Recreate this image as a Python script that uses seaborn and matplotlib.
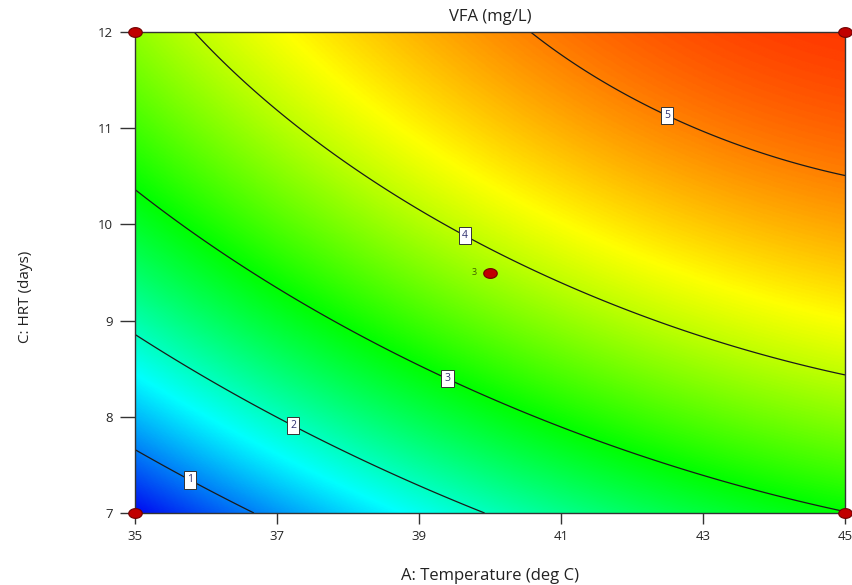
import numpy as np
import matplotlib
matplotlib.use("Agg")
import matplotlib.pyplot as plt
from matplotlib.colors import LinearSegmentedColormap
import seaborn as sns
import pandas as pd

# ---- data ----
title = "VFA (mg/L)"
xlabel = "A: Temperature (deg C)"
ylabel = "C: HRT (days)"
x_ticks = [35, 37, 39, 41, 43, 45]
y_ticks = [7, 8, 9, 10, 11, 12]
levels = [1, 2, 3, 4, 5]

# traced points on each contour line (temperature, HRT)
lvl1_x = [35.0, 35.79, 36.65]
lvl1_y = [7.62, 7.37, 7.0]
lvl2_x = [35.03, 37.25, 38.69, 39.86]
lvl2_y = [8.81, 7.94, 7.42, 7.0]
lvl3_x = [35.04, 36.34, 37.65, 39.41, 40.56, 42.01, 43.90, 45.0]
lvl3_y = [10.31, 9.77, 9.03, 8.41, 8.00, 7.58, 7.21, 7.03]
lvl4_x = [35.87, 36.80, 38.21, 39.62, 40.80, 42.49, 43.90, 45.0]
lvl4_y = [12.0, 11.26, 10.49, 9.91, 9.39, 8.98, 8.67, 8.42]
lvl5_x = [40.56, 40.85, 42.51, 43.66, 45.0]
lvl5_y = [12.0, 11.85, 11.15, 10.80, 10.49]

# design points
design_x = [35, 35, 45, 45, 40]
design_y = [7, 12, 7, 12, 9.5]
center_reps = "3"

# ---- response surface (quadratic fitted through the traced contours) ----
tx = [lvl1_x, lvl2_x, lvl3_x, lvl4_x, lvl5_x]
ty = [lvl1_y, lvl2_y, lvl3_y, lvl4_y, lvl5_y]
px, py, pv = [], [], []
for lv, xs, ys in zip(levels, tx, ty):
    px += xs; py += ys; pv += [lv] * len(xs)
px, py, pv = np.array(px), np.array(py), np.array(pv, float)

def design(x, y):
    a = (x - 40.0) / 5.0
    c = (y - 9.5) / 2.5
    return np.stack([np.ones_like(a), a, c, a * c, a * a, c * c], axis=-1)

coef, *_ = np.linalg.lstsq(design(px, py), pv, rcond=None)

gx = np.linspace(35, 45, 500)
gy = np.linspace(7, 12, 500)
GX, GY = np.meshgrid(gx, gy)
Z = design(GX, GY) @ coef

# ---- drawing ----
sns.set_style("white")
plt.rcParams['font.family'] = ['Open Sans', 'DejaVu Sans']

fig = plt.figure(figsize=(8.53, 5.85), dpi=100)
ax = fig.add_axes([135 / 853, 1 - 513 / 585, 710 / 853, 481 / 585])

cmap = LinearSegmentedColormap.from_list(
    "de", ["#0000f0", "#00ffff", "#00ff00", "#ffff00", "#ff0000"])
ax.imshow(Z, extent=[35, 45, 7, 12], origin="lower", aspect="auto",
          cmap=cmap, vmin=Z.min() - 0.05, vmax=Z.max() + 0.3,
          interpolation="bilinear")

cs = ax.contour(GX, GY, Z, levels=levels, colors="#1a1a1a", linewidths=0.9)
label_pos = [(35.79, 7.37), (37.25, 7.94), (39.41, 8.41), (39.65, 9.88), (42.51, 11.15)]
texts = ax.clabel(cs, fmt="%d", manual=label_pos, inline=False, fontsize=7.5,
                  colors="#303070")
for t in texts:
    t.set_rotation(0)
    t.set_bbox(dict(boxstyle="square,pad=0.3", fc="white", ec="#333333", lw=0.7))

# elliptical marker like the reference's design points
th = np.linspace(0, 2 * np.pi, 40)
ellipse = np.column_stack([np.cos(th), 0.72 * np.sin(th)])

df = pd.DataFrame({"x": design_x, "y": design_y})
sns.scatterplot(data=df, x="x", y="y", ax=ax, s=95, color="#c00000",
                marker=ellipse, edgecolor="#700000", linewidth=0.8, clip_on=False,
                zorder=10, legend=False)
ax.text(39.82, 9.5, center_reps, fontsize=6.5, color="#406000",
        ha="right", va="center", zorder=11)

ax.set_xlim(35, 45)
ax.set_ylim(7, 12)
ax.set_xticks(x_ticks)
ax.set_yticks(y_ticks)
ax.tick_params(axis="x", length=8, width=1, color="#333333", labelsize=9.5,
               pad=4, direction="out", bottom=True)
ax.tick_params(axis="y", length=11, width=1, color="#333333", labelsize=9.5,
               pad=5, direction="out", left=True)
for s in ax.spines.values():
    s.set_color("#333333")
    s.set_linewidth(1.0)

ax.set_title(title, fontsize=12, pad=8, color="#222222")
ax.set_xlabel(xlabel, fontsize=12, color="#222222")
ax.set_ylabel(ylabel, fontsize=11, color="#222222")
ax.yaxis.set_label_coords(-0.143, 0.45)
ax.xaxis.set_label_coords(0.5, -0.115)

fig.savefig("out.png", dpi=100)
